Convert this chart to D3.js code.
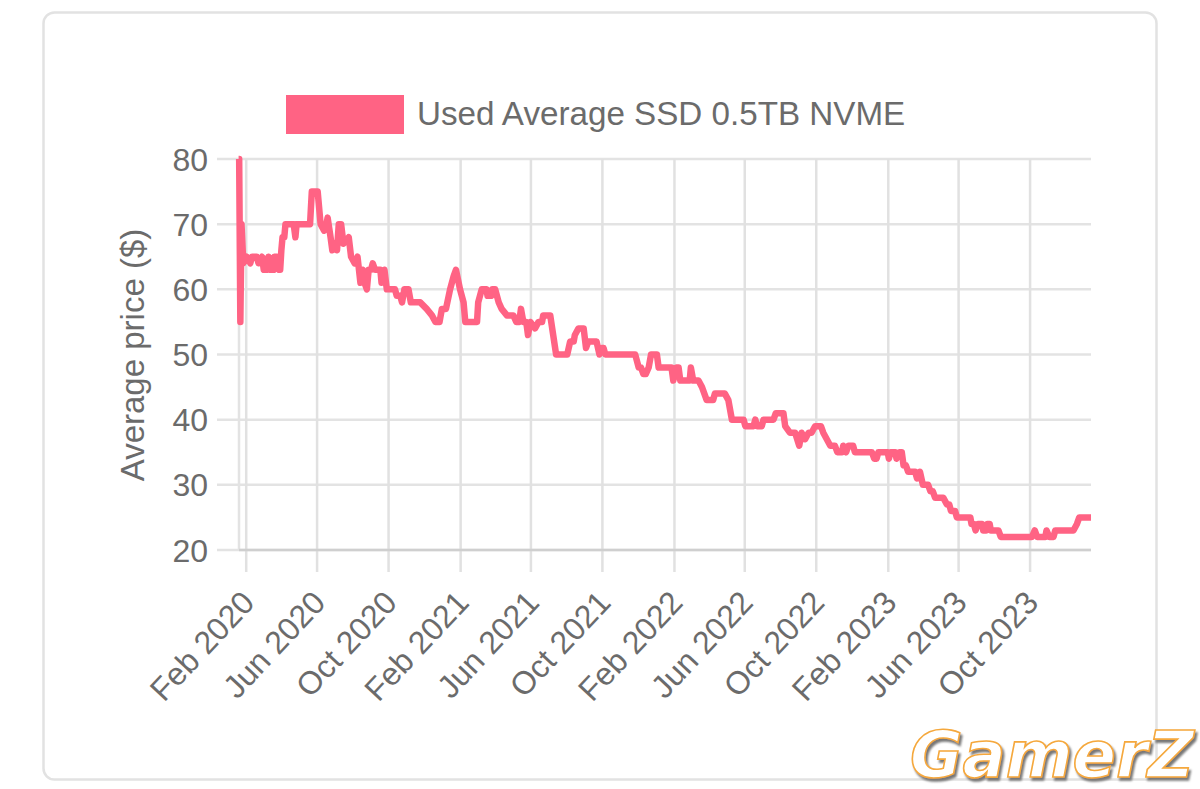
<!DOCTYPE html>
<html>
<head>
<meta charset="utf-8">
<script src="https://cdn.jsdelivr.net/npm/d3@7"></script>
<style>
  html, body { margin: 0; padding: 0; background: #fff; }
  text { font-family: "Liberation Sans", Arial, sans-serif; fill: #6b6b6b; }
</style>
</head>
<body>
<div id="chart"></div>
<script>
// series label and tick values
var seriesName = "Used Average SSD 0.5TB NVME";
var yTicks = [20, 30, 40, 50, 60, 70, 80];
var xTickDates = ["2020-02-01", "2020-06-01", "2020-10-01", "2021-02-01", "2021-06-01", "2021-10-01",
                  "2022-02-01", "2022-06-01", "2022-10-01", "2023-02-01", "2023-06-01", "2023-10-01"];
var xDomainDates = ["2020-01-18", "2024-01-13"];

// days since 1 Jan 2020
var days = [18, 19, 21, 23, 26, 32, 38, 41, 49, 52, 58, 61, 66, 69, 72, 78, 79, 84, 87, 89, 91, 93, 96, 98,
  106, 112, 115, 117, 140, 143, 153, 158, 164, 168, 170, 175, 178, 182, 186, 189, 193, 197, 206, 210, 216,
  221, 226, 230, 233, 237, 240, 244, 247, 251, 260, 262, 267, 271, 285, 288, 294, 297, 301, 308, 312, 328,
  339, 348, 354, 361, 365, 372, 379, 385, 389, 396, 402, 405, 425, 427, 433, 441, 443, 449, 451, 456, 462,
  467, 476, 487, 492, 497, 500, 504, 509, 512, 516, 524, 530, 536, 538, 550, 555, 560, 579, 584, 590, 592,
  598, 607, 611, 615, 629, 634, 638, 641, 644, 695, 701, 705, 709, 713, 718, 722, 732, 735, 749, 757, 760,
  765, 769, 772, 788, 790, 794, 803, 809, 813, 817, 828, 831, 848, 854, 860, 880, 883, 897, 900, 903, 911,
  914, 931, 935, 948, 951, 959, 968, 975, 979, 985, 991, 996, 1002, 1012, 1016, 1022, 1028, 1036, 1040, 1048,
  1050, 1055, 1059, 1067, 1070, 1099, 1103, 1107, 1110, 1126, 1128, 1131, 1139, 1141, 1146, 1150, 1153, 1157,
  1161, 1173, 1176, 1181, 1186, 1195, 1199, 1203, 1207, 1221, 1227, 1231, 1234, 1241, 1244, 1267, 1269, 1273,
  1276, 1280, 1287, 1289, 1294, 1296, 1300, 1302, 1315, 1319, 1372, 1377, 1381, 1395, 1397, 1402, 1409, 1412,
  1443, 1449, 1453, 1473];

// average price in dollars for each entry of days
var prices = [80, 80, 55, 70, 64, 65, 64, 65, 65, 64, 65, 63, 63, 65, 63, 63, 65, 65, 63, 63, 66, 68, 68, 70,
  70, 70, 68, 70, 70, 75, 75, 70, 69, 70, 71, 68, 66, 67, 66, 70, 70, 67, 68, 65, 64,
  65, 61, 63, 61, 60, 63, 63, 64, 63, 63, 61, 63, 60, 60, 59, 59, 58, 60, 60, 58, 58,
  57, 56, 55, 55, 57, 57, 60, 62, 63, 60, 58, 55, 55, 58, 60, 60, 59, 59, 60, 60, 58,
  57, 56, 56, 55, 55, 57, 55, 55, 53, 55, 54, 55, 55, 56, 56, 53, 50, 50, 52, 52, 53,
  54, 54, 51, 52, 52, 50, 51, 51, 50, 50, 48, 48, 47, 47, 48, 50, 50, 48, 48, 48, 46,
  48, 48, 46, 46, 48, 46, 46, 45, 44, 43, 43, 44, 44, 43, 40, 40, 39, 39, 40, 39, 39,
  40, 40, 41, 41, 39, 38, 38, 36, 38, 37, 38, 38, 39, 39, 38, 37, 36, 36, 35, 35,
  36, 35, 36, 36, 35, 35, 34, 34, 35, 35, 34, 35, 35, 34, 35, 35, 33, 33,
  32, 32, 31, 32, 30, 30, 29, 29, 28, 28, 27, 27, 26, 26, 25, 25, 24, 24,
  23, 24, 24, 23, 23, 24, 24, 23, 23, 22, 22, 23, 22, 22, 23, 22, 22, 23,
  23, 24, 25, 25];

var width = 1200, height = 789;
var margin = {top: 159, right: 1091, bottom: 550, left: 238};
var pink = "#ff6384";

var svg = d3.select("#chart").append("svg")
    .attr("width", width)
    .attr("height", height)
    .style("display", "block");

// soft shadow for the watermark
svg.append("defs").append("filter")
    .attr("id", "soft")
    .append("feDropShadow")
    .attr("dx", 2).attr("dy", 3)
    .attr("stdDeviation", 1)
    .attr("flood-color", "#777");

// card border
svg.append("rect")
    .attr("x", 43.5).attr("y", 12.5)
    .attr("width", 1113).attr("height", 767)
    .attr("rx", 11)
    .attr("fill", "#fff")
    .attr("stroke", "#e2e2e2")
    .attr("stroke-width", 2.5);

var parseDay = d3.utcParse("%Y-%m-%d");
var x = d3.scaleUtc().domain(xDomainDates.map(parseDay)).range([margin.left, margin.right]);
var y = d3.scaleLinear().domain([20, 80]).range([margin.bottom, margin.top]);

// horizontal grid
svg.append("g").selectAll("line")
    .data(yTicks)
    .enter().append("line")
    .attr("x1", 217).attr("x2", margin.right)
    .attr("y1", function(d) { return y(d); })
    .attr("y2", function(d) { return y(d); })
    .attr("stroke", "#e3e3e3")
    .attr("stroke-width", 2.5);

// y axis border
svg.append("line")
    .attr("x1", 239).attr("x2", 239)
    .attr("y1", margin.top).attr("y2", margin.bottom)
    .attr("stroke", "#e3e3e3")
    .attr("stroke-width", 2.5);

// vertical grid
svg.append("g").selectAll("line")
    .data(xTickDates.map(parseDay))
    .enter().append("line")
    .attr("x1", function(d) { return x(d); })
    .attr("x2", function(d) { return x(d); })
    .attr("y1", margin.top).attr("y2", 572)
    .attr("stroke", "#e1e1e1")
    .attr("stroke-width", 2.5);

// x axis border
svg.append("line")
    .attr("x1", 239).attr("x2", margin.right)
    .attr("y1", y(20)).attr("y2", y(20))
    .attr("stroke", "#cfcfcf")
    .attr("stroke-width", 2.5);

// y labels
svg.append("g").selectAll("text")
    .data(yTicks)
    .enter().append("text")
    .attr("x", 208)
    .attr("y", function(d) { return y(d) + 11.5; })
    .attr("text-anchor", "end")
    .attr("font-size", "32px")
    .text(function(d) { return d; });

// x labels
var fmt = d3.utcFormat("%b %Y");
svg.append("g").selectAll("text")
    .data(xTickDates.map(parseDay))
    .enter().append("text")
    .attr("text-anchor", "end")
    .attr("font-size", "32px")
    .attr("transform", function(d) { return "translate(" + (x(d) + 10) + ",604) rotate(-47)"; })
    .text(function(d) { return fmt(d); });

// y axis title
svg.append("text")
    .attr("transform", "translate(144,355) rotate(-90)")
    .attr("text-anchor", "middle")
    .attr("font-size", "33px")
    .text("Average price ($)");

// legend
svg.append("rect")
    .attr("x", 286).attr("y", 95)
    .attr("width", 118).attr("height", 39)
    .attr("fill", pink);
svg.append("text")
    .attr("x", 417).attr("y", 125)
    .attr("font-size", "33.2px")
    .text(seriesName);

// the line
var points = days.map(function(d, i) {
  return { date: d3.utcDay.offset(parseDay("2020-01-01"), d), price: prices[i] };
});
var line = d3.line()
    .x(function(d) { return x(d.date); })
    .y(function(d) { return y(d.price); });
svg.append("path")
    .datum(points)
    .attr("fill", "none")
    .attr("stroke", pink)
    .attr("stroke-width", 6.5)
    .attr("stroke-linejoin", "round")
    .attr("d", line);

// watermark
svg.append("text")
    .attr("x", 910).attr("y", 777)
    .attr("textLength", 284)
    .attr("font-weight", "bold")
    .attr("font-style", "italic")
    .attr("font-size", "64px")
    .style("font-family", "DejaVu Sans")
    .style("fill", "#fff")
    .attr("stroke", "#f5a83c")
    .attr("stroke-width", 1.6)
    .attr("filter", "url(#soft)")
    .text("GamerZ");
</script>
</body>
</html>
